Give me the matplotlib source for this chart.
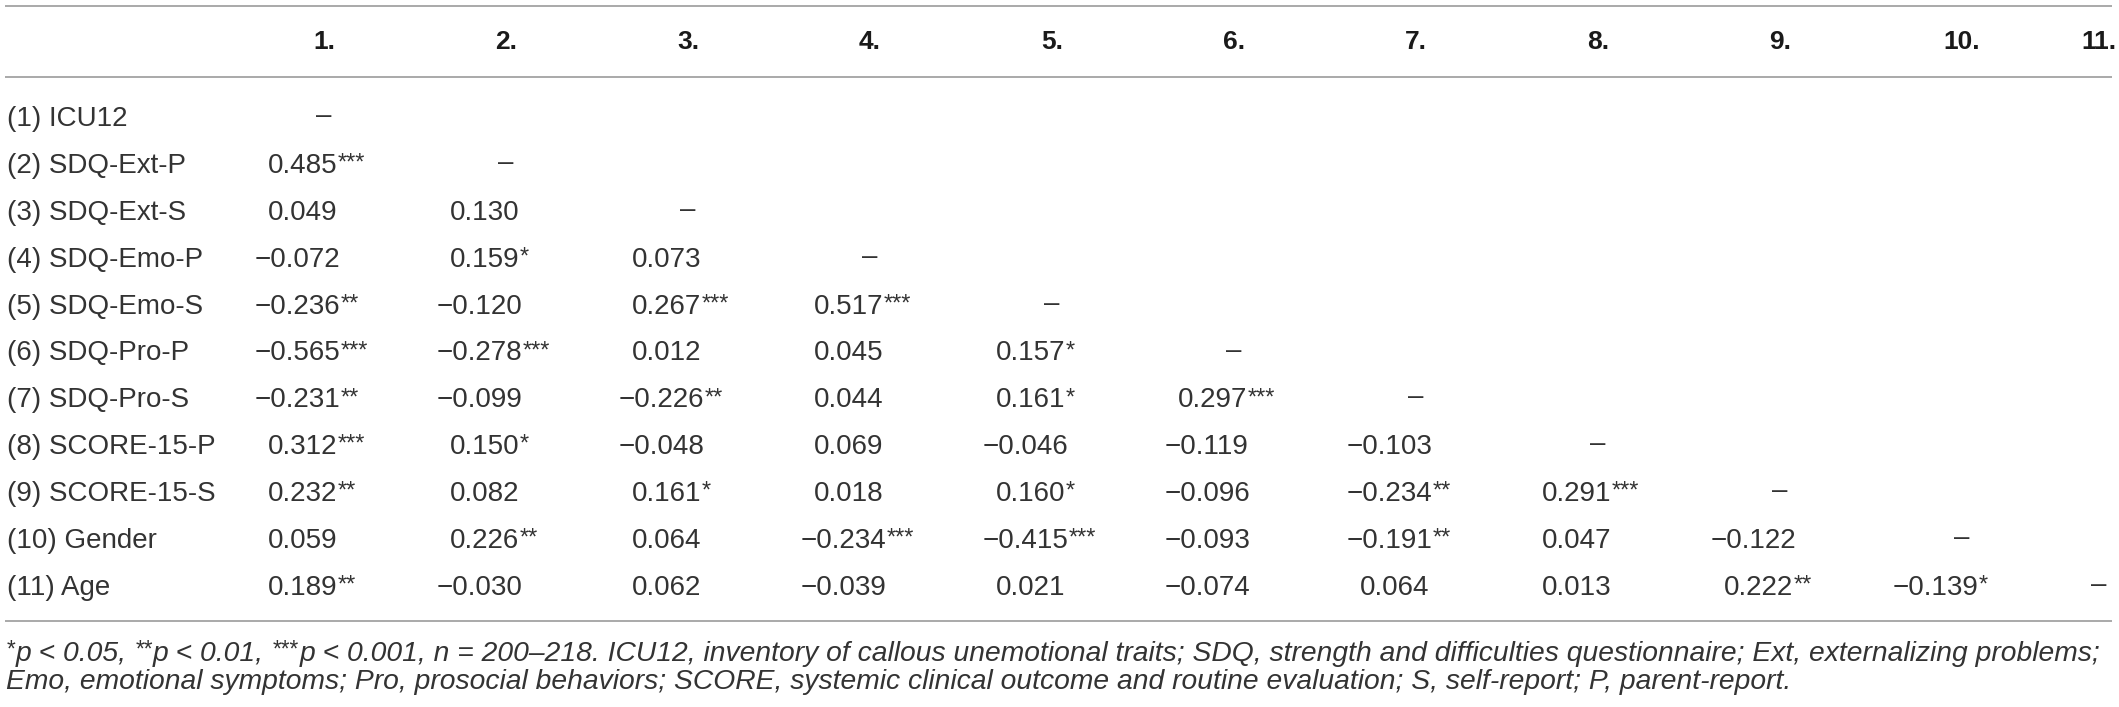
import re
import matplotlib.pyplot as plt

# table content
labels = ["(1) ICU12", "(2) SDQ-Ext-P", "(3) SDQ-Ext-S", "(4) SDQ-Emo-P",
          "(5) SDQ-Emo-S", "(6) SDQ-Pro-P", "(7) SDQ-Pro-S", "(8) SCORE-15-P",
          "(9) SCORE-15-S", "(10) Gender", "(11) Age"]
headers = ["1.", "2.", "3.", "4.", "5.", "6.", "7.", "8.", "9.", "10.", "11."]

# lower triangle: correlation values and number of stars
r_vals = [
    [],
    [0.485],
    [0.049, 0.130],
    [-0.072, 0.159, 0.073],
    [-0.236, -0.120, 0.267, 0.517],
    [-0.565, -0.278, 0.012, 0.045, 0.157],
    [-0.231, -0.099, -0.226, 0.044, 0.161, 0.297],
    [0.312, 0.150, -0.048, 0.069, -0.046, -0.119, -0.103],
    [0.232, 0.082, 0.161, 0.018, 0.160, -0.096, -0.234, 0.291],
    [0.059, 0.226, 0.064, -0.234, -0.415, -0.093, -0.191, 0.047, -0.122],
    [0.189, -0.030, 0.062, -0.039, 0.021, -0.074, 0.064, 0.013, 0.222, -0.139],
]
stars = [
    [],
    [3],
    [0, 0],
    [0, 1, 0],
    [2, 0, 3, 3],
    [3, 3, 0, 0, 1],
    [2, 0, 2, 0, 1, 3],
    [3, 1, 0, 0, 0, 0, 0],
    [2, 0, 1, 0, 1, 0, 2, 3],
    [0, 2, 0, 3, 3, 0, 2, 0, 0],
    [2, 0, 0, 0, 0, 0, 0, 0, 2, 1],
]

note1 = ("^{*}p < 0.05, ^{**}p < 0.01, ^{***}p < 0.001, n = 200\u2013218. ICU12, inventory of "
         "callous unemotional traits; SDQ, strength and difficulties questionnaire; "
         "Ext, externalizing problems;")
note2 = ("Emo, emotional symptoms; Pro, prosocial behaviors; SCORE, systemic clinical "
         "outcome and routine evaluation; S, self-report; P, parent-report.")

plt.rcParams['font.family'] = ['Liberation Sans', 'DejaVu Sans']

W, H = 2119, 707
ink = '#333333'
rule = '#a3a3a3'
body = 20
head = 19

fig = plt.figure(figsize=(W / 100, H / 100), dpi=100)
ax = fig.add_axes([0, 0, 1, 1])
ax.set_xlim(0, W)
ax.set_ylim(H, 0)
ax.axis('off')
rend = fig.canvas.get_renderer()


def width(s, size, **kw):
    t = ax.text(0, 0, s, fontsize=size, **kw)
    w = t.get_window_extent(rend).width
    t.remove()
    return w


def runs(x, y, s, size, star=0.85, lift=0.12, draw=True, **kw):
    # text with ^{..} star parts, left to right; returns end x
    sp = width("a a", size, **kw) - width("aa", size, **kw)
    px = size * 100 / 72
    for part in re.split(r'(\^\{[^}]*\})', s):
        if not part:
            continue
        if part.startswith('^{'):
            txt, sz, yy = part[2:-1], size * star, y - lift * px
        else:
            txt, sz, yy = part, size, y
        core = txt.rstrip(' ')
        t = ax.text(x, yy, core, fontsize=sz, va='baseline', ha='left', color=ink, **kw)
        x += t.get_window_extent(rend).width + sp * (len(txt) - len(core))
        if part.startswith('^{'):
            x += 1
        if not draw:
            t.remove()
    return x


col_x = [324 + 182 * k for k in range(10)] + [2099]
row_y = [116 + 46.9 * i for i in range(len(labels))]
minus_w = width("\u2212", body) * 0.8

for yl in [6, 77, 621]:
    ax.plot([5, 2112], [yl, yl], color=rule, lw=1.3, solid_capstyle='butt')

for cx, h in zip(col_x, headers):
    ax.text(cx, 42, h, fontsize=head, fontweight='bold', ha='center', va='center', color='#1a1a1a')

for i, lab in enumerate(labels):
    base = row_y[i] + 10
    ax.text(7, base, lab, fontsize=body, va='baseline', color=ink)
    for j, (v, s) in enumerate(zip(r_vals[i], stars[i])):
        x0 = col_x[j] - 56
        num = f"{abs(v):.3f}"
        if v < 0:
            num = "\u2212" + num
            x0 -= minus_w
        txt = num + ("^{" + "*" * s + "}" if s else "")
        runs(x0, base, txt, body)
    ax.text(col_x[i], row_y[i], "\u2013", fontsize=body, ha='center', va='center', color=ink)

# footnote sized so that its first line fills the table width
foot = 17
w1 = runs(6, 0, note1, foot, star=0.8, lift=0.15, draw=False, style='italic') - 6
foot = foot * 2098 / w1
runs(6, 661, note1, foot, star=0.8, lift=0.15, style='italic')
runs(6, 689, note2, foot, style='italic')

fig.savefig('out.png', dpi=100, facecolor='white')
